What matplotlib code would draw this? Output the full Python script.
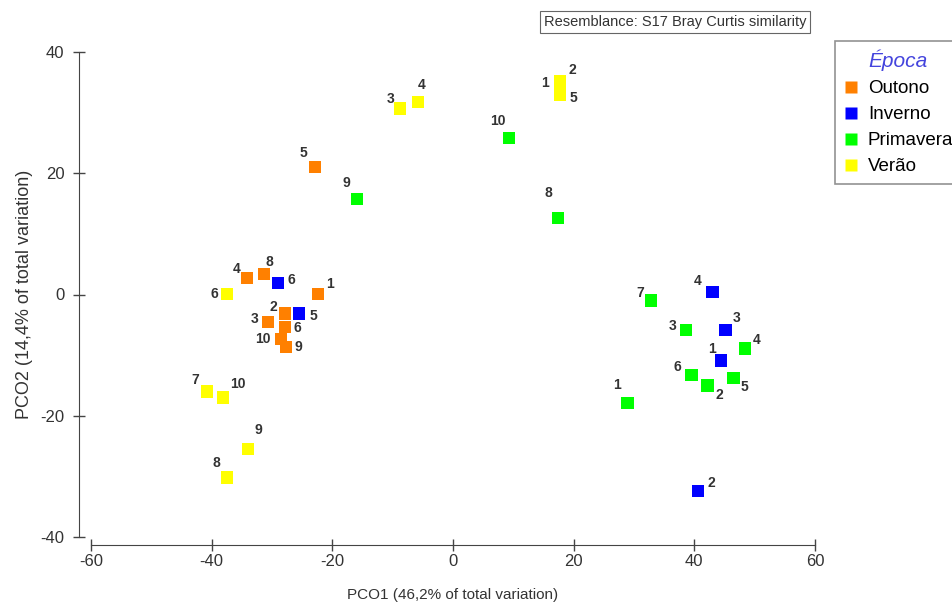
import matplotlib.pyplot as plt
from matplotlib.lines import Line2D

plt.rcParams['font.family'] = ['Liberation Sans', 'DejaVu Sans']
plt.rcParams['axes.unicode_minus'] = False

# PCO scores, per season (Época)
outono_lab = ['1', '2', '3', '4', '5', '6', '8', '9', '10']
outono_x = [-22.4, -27.8, -30.7, -34.1, -22.9, -27.8, -31.3, -27.7, -28.5]
outono_y = [0.1, -3.1, -4.5, 2.7, 21.0, -5.4, 3.4, -8.7, -7.3]

inverno_lab = ['1', '2', '3', '4', '5', '6']
inverno_x = [44.4, 40.6, 45.2, 43.0, -25.5, -29.0]
inverno_y = [-10.9, -32.4, -5.9, 0.4, -3.1, 1.9]

primavera_lab = ['1', '2', '3', '4', '5', '6', '7', '8', '9', '10']
primavera_x = [28.9, 42.2, 38.6, 48.4, 46.5, 39.5, 32.8, 17.4, -15.9, 9.3]
primavera_y = [-17.9, -15.0, -5.9, -8.9, -13.8, -13.3, -1.0, 12.6, 15.8, 25.8]

verao_lab = ['1', '2', '3', '4', '5', '6', '7', '8', '9', '10']
verao_x = [17.7, 17.7, -8.8, -5.8, 17.7, -37.5, -40.8, -37.5, -34.0, -38.1]
verao_y = [34.1, 35.1, 30.7, 31.8, 32.9, 0.1, -16.0, -30.2, -25.5, -17.0]

# label offsets in pixels (dx, dy with dy down)
outono_off = [(12, -10), (-12, -6), (-13, -3), (-11, -9), (-11, -14), (12, 1), (5, -12), (12, 0), (-18, 0)]
inverno_off = [(-9, -12), (13, -8), (11, -12), (-15, -11), (14, 3), (13, -3)]
primavera_off = [(-10, -18), (12, 10), (-13, -4), (12, -8), (11, 9), (-14, -8), (-11, -8), (-10, -25), (-11, -16), (-11, -17)]
verao_off = [(-15, -5), (13, -12), (-9, -9), (4, -17), (14, 3), (-12, 0), (-12, -12), (-10, -15), (11, -19), (15, -14)]

groups = [
    ('Outono', '#ff8000', outono_x, outono_y, outono_lab, outono_off),
    ('Inverno', '#0000ff', inverno_x, inverno_y, inverno_lab, inverno_off),
    ('Primavera', '#00ff00', primavera_x, primavera_y, primavera_lab, primavera_off),
    ('Verão', '#ffff00', verao_x, verao_y, verao_lab, verao_off),
]

W, H = 952, 605
fig = plt.figure(figsize=(W / 100, H / 100), dpi=100)
ax = fig.add_axes([91 / W, (H - 537) / H, (815 - 91) / W, (537 - 52) / H])

handles = []
for name, col, xs, ys, labs, offs in groups:
    ax.scatter(xs, ys, marker='s', s=80, color=col, edgecolors='none', zorder=3)
    for x, y, lab, (dx, dy) in zip(xs, ys, labs, offs):
        ax.annotate(lab, (x, y), xytext=(dx, -dy), textcoords='offset pixels',
                    ha='center', va='center', fontsize=10, fontweight='bold',
                    color='#333333', zorder=4)
    handles.append(Line2D([], [], marker='s', linestyle='none', markersize=9,
                          markerfacecolor=col, markeredgecolor='none', label=name))

ax.set_xlim(-60, 60)
ax.set_ylim(-40, 40)
ax.set_xticks([-60, -40, -20, 0, 20, 40, 60])
ax.set_yticks([-40, -20, 0, 20, 40])
ax.spines['top'].set_visible(False)
ax.spines['right'].set_visible(False)
ax.spines['left'].set_position(('outward', 12 * 0.72))
ax.spines['bottom'].set_position(('outward', 8 * 0.72))
for s in ['left', 'bottom']:
    ax.spines[s].set_color('#444444')
ax.tick_params(direction='inout', length=9, width=1, color='#444444',
               labelsize=12, labelcolor='#333333')
ax.tick_params(axis='x', pad=2)
ax.tick_params(axis='y', pad=6)
ax.set_xlabel('PCO1 (46,2% of total variation)', fontsize=11, color='#333333', labelpad=14)
ax.set_ylabel('PCO2 (14,4% of total variation)', fontsize=13, color='#333333', labelpad=5)

leg = fig.legend(handles=handles, loc='upper left', bbox_to_anchor=(835 / W, 1 - 41 / H),
                 title='Época', fontsize=13.5, frameon=True, fancybox=False,
                 edgecolor='#777777', borderpad=0.45, labelspacing=0.48,
                 handletextpad=0.5, handlelength=0.8, borderaxespad=0)
leg.get_title().set_fontsize(15)
leg.get_title().set_fontstyle('italic')
leg.get_title().set_color('#4444dd')
leg.get_frame().set_linewidth(1.2)

fig.text((523 + 827) / 2 / W, 1 - 22 / H, 'Resemblance: S17 Bray Curtis similarity',
         ha='center', va='center', fontsize=10.5, color='#333333',
         bbox=dict(boxstyle='square,pad=0.25', facecolor='white', edgecolor='#666666', lw=0.8))

fig.savefig('out.png', dpi=100)
